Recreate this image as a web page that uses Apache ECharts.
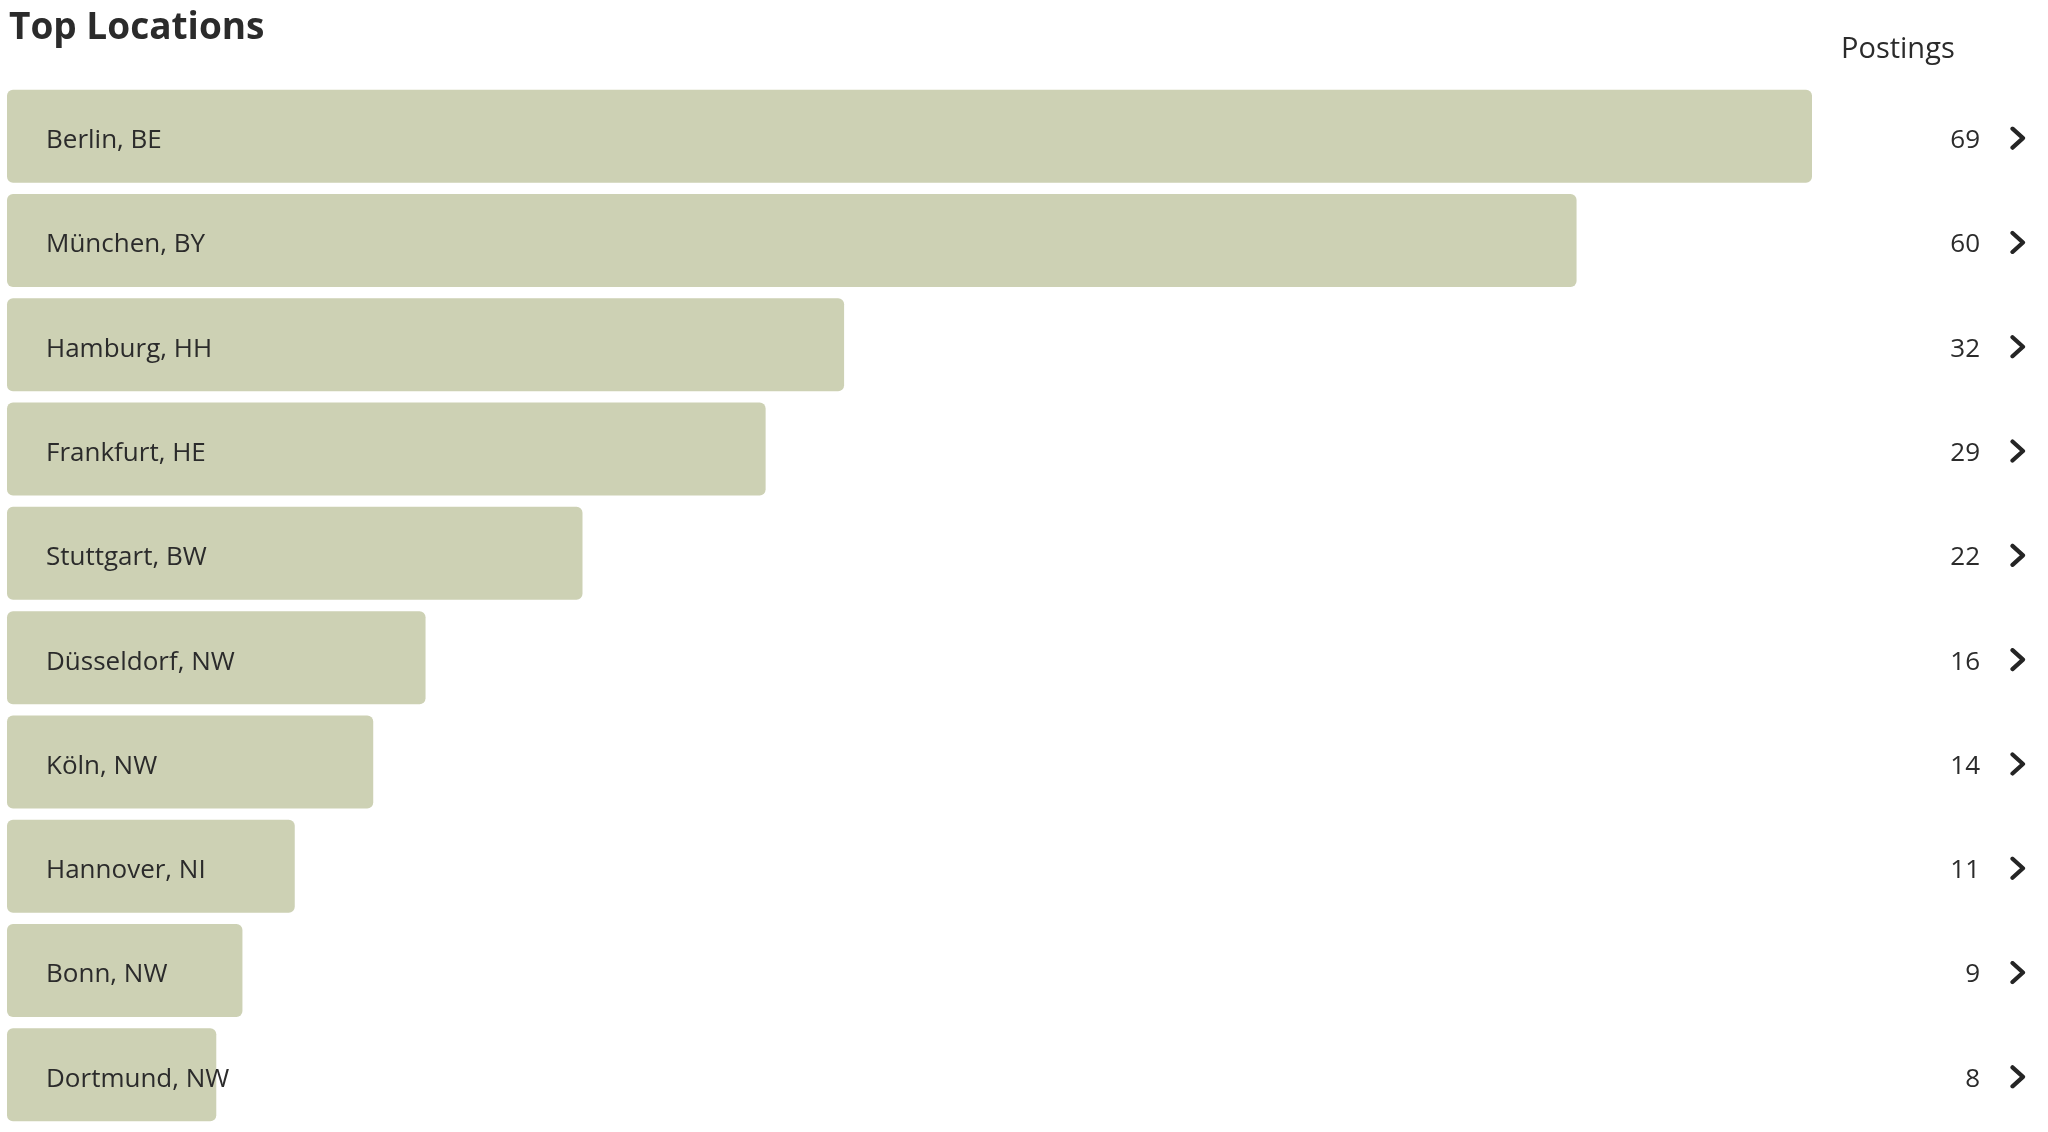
<!DOCTYPE html>
<html>
<head>
<meta charset="utf-8">
<script src="https://cdn.jsdelivr.net/npm/echarts@6/dist/echarts.min.js"></script>
<style>
  html, body { margin: 0; padding: 0; background: #fff; }
  #chart { width: 2048px; height: 1132px; }
</style>
</head>
<body>
<div id="chart"></div>
<script>
// data
const locations = ['Berlin, BE', 'München, BY', 'Hamburg, HH', 'Frankfurt, HE', 'Stuttgart, BW',
  'Düsseldorf, NW', 'Köln, NW', 'Hannover, NI', 'Bonn, NW', 'Dortmund, NW']
const postings = [69, 60, 32, 29, 22, 16, 14, 11, 9, 8]

const textColor = '#2b2b2b'
const font = 'Open Sans'

// little chevron drawn as inline svg (no network needed)
const chevron = 'data:image/svg+xml;utf8,' + encodeURIComponent(
  '<svg xmlns="http://www.w3.org/2000/svg" width="16" height="24" viewBox="0 0 16 24">' +
  '<polyline points="2.5,2.5 13,12 2.5,21.5" fill="none" stroke="#252525" stroke-width="4.2" ' +
  'stroke-linecap="round" stroke-linejoin="round"/></svg>')

let chart = echarts.init(document.getElementById('chart'))
chart.setOption({
  animation: false,
  title: [
    {
      text: 'Top Locations',
      left: 4,
      top: 5,
      textStyle: { fontFamily: font, fontWeight: 'bold', fontSize: 37, color: textColor }
    },
    {
      text: 'Postings',
      left: 1836,
      top: 30,
      textStyle: { fontFamily: font, fontWeight: 'normal', fontSize: 29, color: textColor }
    }
  ],
  grid: {
    left: 7,
    right: 236,
    top: 84,
    height: 1043
  },
  xAxis: {
    type: 'value',
    min: 0,
    max: 69,
    show: false
  },
  yAxis: [
    {
      type: 'category',
      inverse: true,
      data: locations,
      axisLine: { show: false },
      axisTick: { show: false },
      axisLabel: {
        inside: true,
        margin: 39,
        formatter: function (value) {
          return '{a|' + value + '}'
        },
        rich: {
          a: { color: textColor, fontFamily: font, fontSize: 26, padding: [9, 0, 0, 0] }
        }
      },
      z: 10
    },
    {
      type: 'category',
      inverse: true,
      position: 'right',
      data: locations,
      axisLine: { show: false },
      axisTick: { show: false },
      axisLabel: {
        margin: 214,
        align: 'right',
        padding: [4, 0, 0, 0],
        formatter: function (value, index) {
          return '{v|' + postings[index] + '}{gap|}{c|}'
        },
        rich: {
          v: { color: textColor, fontFamily: font, fontSize: 26, padding: [5, 0, 0, 0] },
          gap: { width: 30 },
          c: { width: 16, height: 24, backgroundColor: { image: chevron } }
        }
      }
    }
  ],
  series: [
    {
      type: 'bar',
      data: postings,
      barWidth: 93,
      itemStyle: { color: '#cdd1b4', borderRadius: 6 },
      silent: true
    }
  ]
})
</script>
</body>
</html>
